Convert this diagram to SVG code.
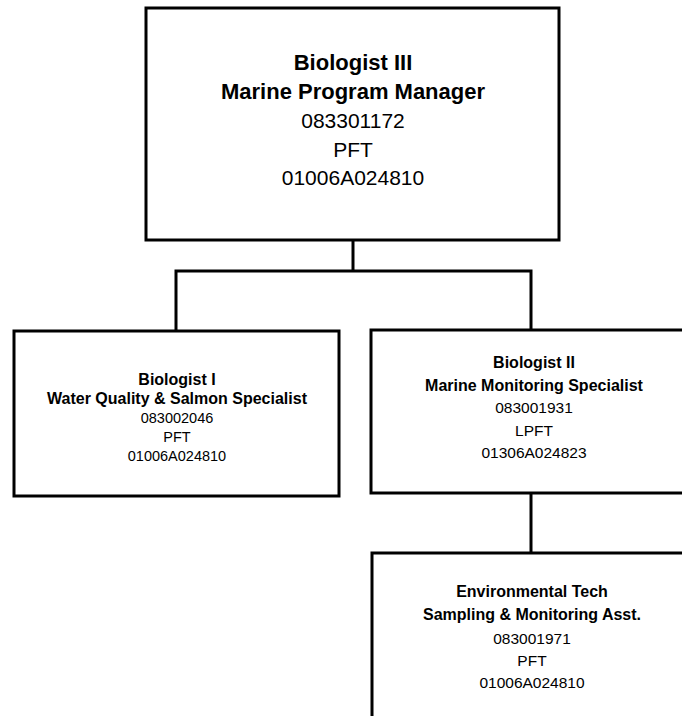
<svg xmlns="http://www.w3.org/2000/svg" width="682" height="716" viewBox="0 0 682 716">
  <style>
    .box { fill: #ffffff; stroke: #000000; stroke-width: 3; }
    .wire { fill: none; stroke: #000000; stroke-width: 3; }
    text { font-family: "Liberation Sans", Arial, sans-serif; fill: #000000; text-anchor: middle; }
    .t1 { font-size: 22px; font-weight: bold; }
    .r1 { font-size: 21px; }
    .t2 { font-size: 16px; font-weight: bold; }
    .r2 { font-size: 15.5px; }
    .r3 { font-size: 14.5px; }
  </style>
  <rect width="682" height="716" fill="#ffffff"/>

  <g id="connectors">
    <path class="wire" d="M353 240 V271"/>
    <path class="wire" d="M176 331 V271 H531 V330"/>
    <path class="wire" d="M531 493 V553"/>
  </g>

  <g id="node-manager">
    <rect class="box" x="146" y="8" width="413" height="232"/>
    <text class="t1" x="353" y="70">Biologist III</text>
    <text class="t1" x="353" y="99">Marine Program Manager</text>
    <text class="r1" x="353" y="128">083301172</text>
    <text class="r1" x="353" y="157">PFT</text>
    <text class="r1" x="353" y="185">01006A024810</text>
  </g>

  <g id="node-biologist-1">
    <rect class="box" x="14" y="331" width="325" height="165"/>
    <text class="t2" x="177" y="385">Biologist I</text>
    <text class="t2" x="177" y="404">Water Quality &amp; Salmon Specialist</text>
    <text class="r3" x="177" y="423">083002046</text>
    <text class="r3" x="177" y="442">PFT</text>
    <text class="r3" x="177" y="461">01006A024810</text>
  </g>

  <g id="node-biologist-2">
    <rect class="box" x="371" y="330" width="326" height="163"/>
    <text class="t2" x="534" y="368">Biologist II</text>
    <text class="t2" x="534" y="391">Marine Monitoring Specialist</text>
    <text class="r2" x="534" y="413">083001931</text>
    <text class="r2" x="534" y="436">LPFT</text>
    <text class="r2" x="534" y="458">01306A024823</text>
  </g>

  <g id="node-env-tech">
    <rect class="box" x="372" y="553" width="325" height="170"/>
    <text class="t2" x="532" y="597">Environmental Tech</text>
    <text class="t2" x="532" y="620">Sampling &amp; Monitoring Asst.</text>
    <text class="r2" x="532" y="644">083001971</text>
    <text class="r2" x="532" y="666">PFT</text>
    <text class="r2" x="532" y="688">01006A024810</text>
  </g>
</svg>
